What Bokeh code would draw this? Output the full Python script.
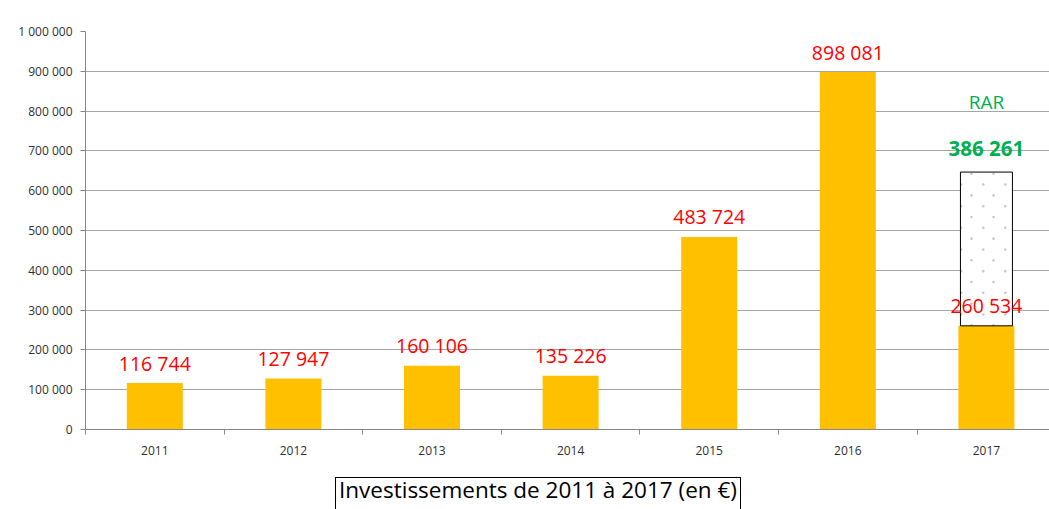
from bokeh.plotting import figure
from bokeh.models import Range1d, FixedTicker, ColumnDataSource, Div
from bokeh.layouts import column
from bokeh.core.properties import value
from bokeh.embed import file_html
from bokeh.resources import INLINE

# ---- data ----
years = ["2011", "2012", "2013", "2014", "2015", "2016", "2017"]
investments = [116744, 127947, 160106, 135226, 483724, 898081, 260534]
rar_year = "2017"
rar_value = 386261
rar_label = "RAR"
y_ticks = [0, 100000, 200000, 300000, 400000, 500000, 600000, 700000, 800000, 900000, 1000000]
title_text = "Investissements de 2011 à 2017 (en €)"

FONT = "Open Sans"
YELLOW = "#FFC000"
RED = "#FF0000"
GREEN = "#00B050"


def fmt(v):
    return f"{v:,}".replace(",", " ")


centers = [i + 0.5 for i in range(len(years))]
src = ColumnDataSource(dict(x=centers, top=investments, label=[fmt(v) for v in investments]))

p = figure(width=1049, height=470, output_backend="svg", toolbar_location=None,
           x_range=Range1d(0, 6.955), y_range=Range1d(0, 1000000),
           min_border_left=85, min_border_right=0, min_border_top=31, min_border_bottom=41)
p.outline_line_color = None
p.background_fill_color = "white"
p.border_fill_color = "white"

# grid
p.xgrid.grid_line_color = None
p.ygrid.grid_line_color = "#A6A6A6"
p.ygrid.grid_line_width = 1

# y axis
p.yaxis.ticker = FixedTicker(ticks=y_ticks, minor_ticks=[])
p.yaxis.major_label_overrides = {t: fmt(t) for t in y_ticks}
p.yaxis.axis_line_color = "#868686"
p.yaxis.major_tick_line_color = "#868686"
p.yaxis.major_tick_out = 5
p.yaxis.major_tick_in = 0
p.yaxis.minor_tick_line_color = None
p.yaxis.major_label_standoff = 8
p.yaxis.major_label_text_font = FONT
p.yaxis.major_label_text_font_size = "12px"
p.yaxis.major_label_text_color = "#303030"

# x axis: labels at centres, ticks at boundaries
p.xaxis.ticker = FixedTicker(ticks=centers, minor_ticks=list(range(len(years) + 1)))
p.xaxis.major_label_overrides = {c: y for c, y in zip(centers, years)}
p.xaxis.axis_line_color = "#868686"
p.xaxis.major_tick_out = 0
p.xaxis.major_tick_in = 0
p.xaxis.minor_tick_line_color = "#868686"
p.xaxis.minor_tick_out = 5
p.xaxis.minor_tick_in = 0
p.xaxis.major_label_standoff = 11
p.xaxis.major_label_text_font = FONT
p.xaxis.major_label_text_font_size = "12px"
p.xaxis.major_label_text_color = "#303030"

# bars
p.vbar(x="x", top="top", width=0.404, source=src, fill_color=YELLOW, line_color=None)

# RAR stacked box (white, black outline) with a light staggered dot texture
ri = years.index(rar_year)
base = investments[ri]
box_w = 0.375
p.vbar(x=[centers[ri]], bottom=[base], top=[base + rar_value], width=box_w,
       fill_color="white", line_color=None)
step_y = 27200          # texture row spacing (value units)
step_x = 0.159          # texture column spacing (x units)
dx, dy = [], []
k = 0
yv = base + rar_value - step_y * 0.15
while yv > base:
    start = -0.108 if k % 2 == 0 else -0.182
    xv = start
    while xv < box_w / 2:
        dx.append(centers[ri] + xv)
        dy.append(yv)
        xv += step_x
    yv -= step_y
    k += 1
p.scatter(x=dx, y=dy, size=2.6, marker="circle", fill_color="#C8C8C8", line_color=None)
p.vbar(x=[centers[ri]], bottom=[base], top=[base + rar_value], width=box_w,
       fill_color=None, line_color="black", line_width=1)

# value labels
p.text(x="x", y="top", text="label", source=src, text_align="center",
       text_baseline="alphabetic", y_offset=-20, text_color=RED,
       text_font=value(FONT), text_font_size="19.5px")

p.text(x=[centers[ri]], y=[base + rar_value], text=[fmt(rar_value)], text_align="center",
       text_baseline="alphabetic", y_offset=-24, text_color=GREEN,
       text_font=value(FONT), text_font_size="20.5px", text_font_style="bold")
p.text(x=[centers[ri]], y=[base + rar_value], text=[rar_label], text_align="center",
       text_baseline="alphabetic", y_offset=-70, text_color=GREEN,
       text_font=value(FONT), text_font_size="19px")

# boxed title below chart (bottom edge runs off the page, as in the original)
title_html = (
    '<div style="position:relative; width:1049px; height:39px; overflow:hidden; background:white;">'
    '<div style="position:absolute; left:335px; top:7px; width:406px; height:44px; '
    'box-sizing:border-box; border:1.5px solid black; padding:1px 0 0 3px; '
    "font-family:'Open Sans'; font-size:22.5px; line-height:22.5px; white-space:nowrap; color:black;\">"
    + title_text + '</div></div>'
)
title_div = Div(text=title_html, width=1049, height=39, margin=0)

layout = column(p, title_div, spacing=0)
open("out.html", "w").write(file_html(layout, INLINE))
